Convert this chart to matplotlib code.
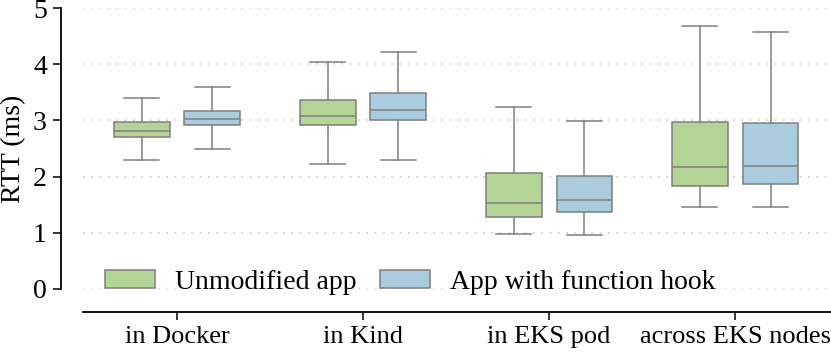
import matplotlib
matplotlib.use("Agg")
import matplotlib.pyplot as plt
from matplotlib.patches import Patch

plt.rcParams['font.family'] = ['Liberation Serif', 'DejaVu Serif']

##############################################################################
# Data (RTT in ms)
categories = ['in Docker', 'in Kind', 'in EKS pod', 'across EKS nodes']
series = ['Unmodified app', 'App with function hook']

# per series: whislo, q1, median, q3, whishi for each category
unmod_lo = [2.30, 2.23, 0.97, 1.46]
unmod_q1 = [2.70, 2.92, 1.28, 1.84]
unmod_med = [2.82, 3.07, 1.53, 2.17]
unmod_q3 = [2.97, 3.36, 2.06, 2.97]
unmod_hi = [3.39, 4.04, 3.23, 4.68]

hook_lo = [2.49, 2.29, 0.96, 1.46]
hook_q1 = [2.91, 3.01, 1.37, 1.87]
hook_med = [3.02, 3.19, 1.58, 2.19]
hook_q3 = [3.17, 3.49, 2.01, 2.95]
hook_hi = [3.59, 4.21, 2.99, 4.57]

colors = ['#b3d494', '#abcbde']
edge = '#7f7f7f'
FS = 20


def make_stats(lo, q1, med, q3, hi):
    return [dict(whislo=a, q1=b, med=c, q3=d, whishi=e, fliers=[])
            for a, b, c, d, e in zip(lo, q1, med, q3, hi)]


stats = [make_stats(unmod_lo, unmod_q1, unmod_med, unmod_q3, unmod_hi),
         make_stats(hook_lo, hook_q1, hook_med, hook_q3, hook_hi)]

##############################################################################
# Plot
fig = plt.figure(figsize=(8.31, 3.52), dpi=100)
ax = fig.add_axes([83 / 831, 63 / 352, 748 / 831, 281 / 352])

offsets = [-0.19, 0.19]
for s_stats, off, col in zip(stats, offsets, colors):
    pos = [i + off for i in range(len(categories))]
    ax.bxp(s_stats, positions=pos, widths=0.3, capwidths=0.19,
           patch_artist=True, showfliers=False, manage_ticks=False,
           boxprops=dict(facecolor=col, edgecolor=edge, linewidth=1.1),
           medianprops=dict(color=edge, linewidth=1.1),
           whiskerprops=dict(color=edge, linewidth=1.1),
           capprops=dict(color=edge, linewidth=1.1))

ax.set_xlim(-0.505, 3.515)
ax.set_ylim(0, 5)
ax.set_xticks(range(len(categories)))
ax.set_xticklabels(categories)
ax.set_yticks(range(6))
ax.tick_params(axis='y', labelsize=FS, length=6, width=1.1, pad=4)
ax.tick_params(axis='x', labelsize=19, length=6, width=1.1, pad=4)
ax.set_ylabel('RTT (ms)', fontsize=FS, labelpad=5)

ax.yaxis.grid(True, linestyle=(0, (1, 4)), color='#cccccc', linewidth=1.2)
ax.set_axisbelow(True)

for side in ['top', 'right']:
    ax.spines[side].set_visible(False)
ax.spines['left'].set_position(('outward', 16))
ax.spines['bottom'].set_position(('outward', 16.5))
ax.spines['left'].set_bounds(0, 5)
ax.spines['left'].set_linewidth(1.3)
ax.spines['bottom'].set_linewidth(1.3)

handles = [Patch(facecolor=c, edgecolor=edge, linewidth=1.1) for c in colors]
ax.legend(handles, series, loc='lower left', bbox_to_anchor=(0.03, -0.02),
          ncol=2, frameon=False, fontsize=FS, handlelength=1.8,
          handleheight=0.62, handletextpad=0.7, columnspacing=0.85,
          borderpad=0, borderaxespad=0)

fig.savefig('out.png', dpi=100)
